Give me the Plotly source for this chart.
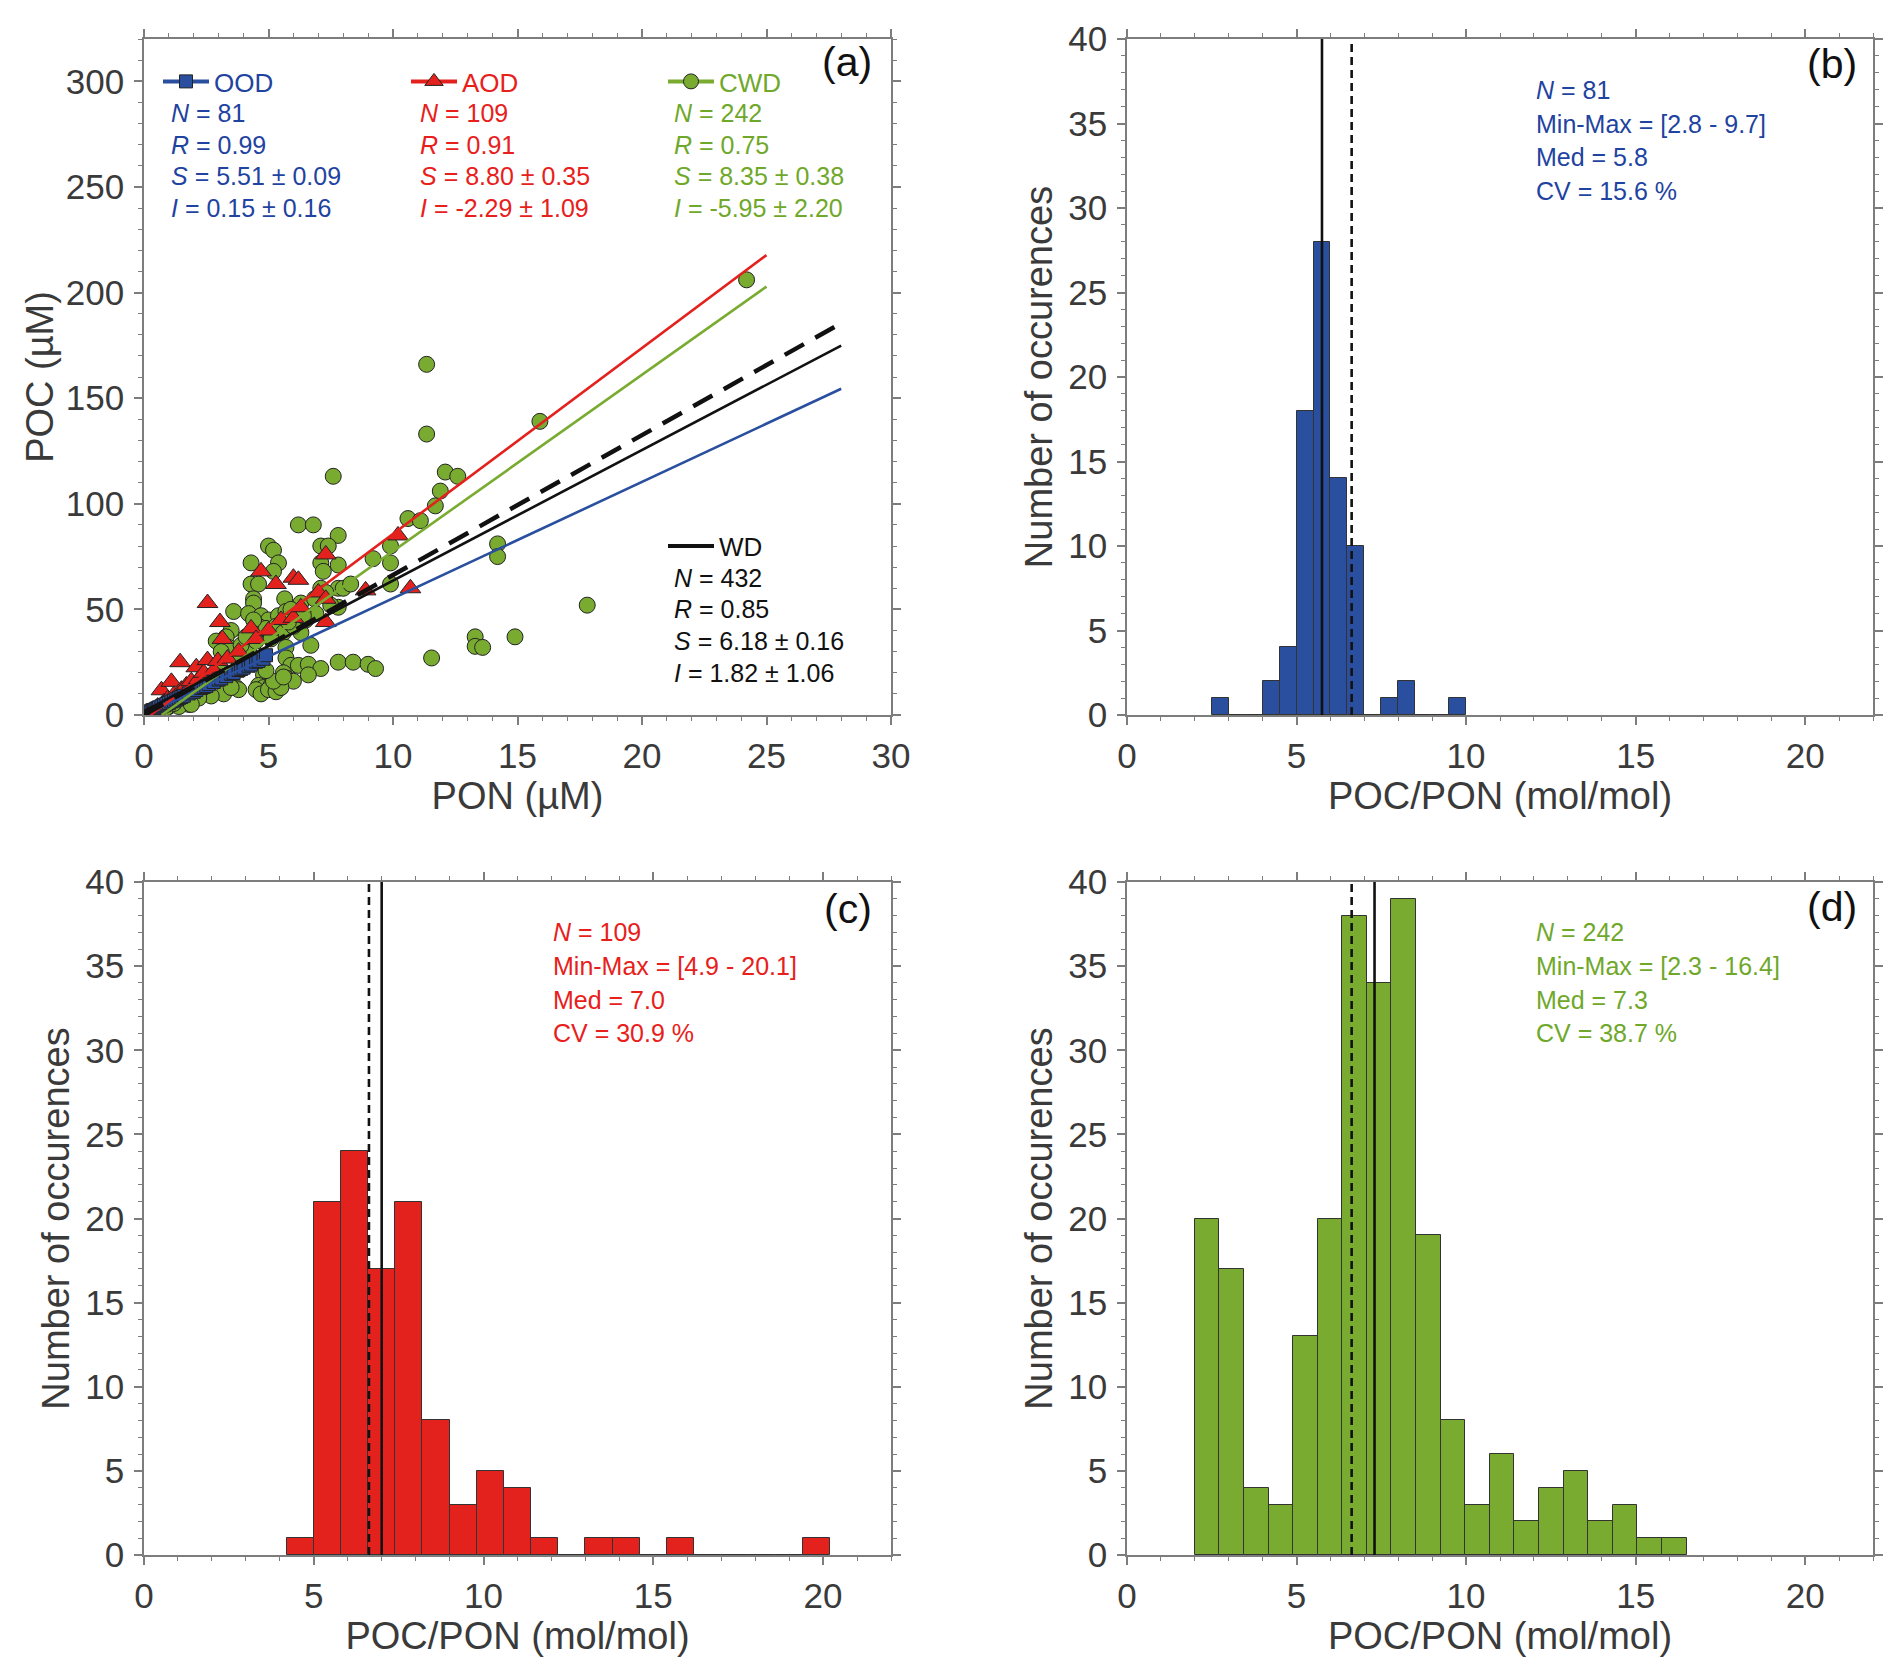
import plotly.graph_objects as go

# ---------------- data ----------------
# Panel (a): POC vs PON scatter
ood_pon = [0.05, 0.1, 0.15, 0.2, 0.25, 0.3, 0.35, 0.4, 0.45, 0.5, 0.55, 0.6, 0.7, 0.8, 0.9, 1.0, 1.1, 1.2,
           1.3, 1.4, 1.5, 1.6, 1.8, 2.0, 2.1, 2.3, 2.4, 2.5, 2.6, 2.8, 3.0, 3.1, 3.3, 3.5, 3.6, 3.8, 3.9,
           4.0, 4.2, 4.3, 4.5, 4.6, 4.8, 4.9]
ood_poc = [0.6, 0.9, 1.2, 1.5, 1.6, 2.0, 2.3, 2.4, 2.6, 3.0, 3.2, 3.6, 4.1, 4.6, 5.3, 5.7, 6.4, 6.8,
           7.4, 8.0, 8.5, 9.1, 10.2, 11.0, 11.8, 12.8, 13.3, 13.7, 14.6, 15.6, 16.8, 17.3, 18.4, 19.5, 19.9,
           21.3, 21.8, 22.4, 23.3, 23.9, 25.2, 25.6, 26.6, 28.3]

aod_pon = [0.25, 0.4, 0.55, 0.7, 0.8, 0.95, 1.1, 1.2, 1.45, 1.5, 1.7, 1.9, 2.1, 2.2, 2.4, 2.55, 2.55, 2.8,
           2.97, 3.05, 3.15, 3.35, 3.6, 3.8, 4.3, 4.5, 4.7, 5.0, 5.3, 5.5, 6.0, 6.0, 6.2, 6.3, 7.0, 7.3,
           7.3, 7.3, 8.9, 10.2, 10.7]
aod_poc = [1.5, 2.5, 4.0, 11.7, 6.0, 7.5, 15.7, 9.5, 25.0, 12.0, 14.0, 16.0, 22.6, 17.0, 20.0, 26.0, 53.0, 21.0,
           25.6, 44.0, 36.0, 26.7, 20.0, 30.0, 41.0, 36.0, 68.0, 40.0, 62.0, 45.0, 65.0, 46.0, 64.0, 51.0, 58.0, 76.0,
           55.0, 44.0, 59.0, 85.0, 60.0]

cwd_pon = [24.2, 11.35, 11.35, 15.9, 12.1, 12.6, 11.9, 11.7, 10.6, 11.1, 9.9, 9.9, 9.9, 14.2, 14.2, 17.8,
           13.3, 13.3, 13.6, 14.9, 11.55, 7.6, 6.2, 6.8, 7.8, 5.0, 5.2, 7.1, 7.4, 4.3, 5.4, 7.1, 7.8, 9.2,
           5.2, 7.2, 4.3, 4.6, 7.1, 7.8, 5.65, 6.3, 4.4, 4.4, 6.85, 7.8, 3.6, 4.2, 4.7, 5.0, 5.4, 5.7, 5.9,
           3.5, 3.3, 2.9, 3.4, 3.1, 4.6, 4.9, 5.3, 5.6, 6.3, 5.7, 5.7, 5.9, 6.2, 6.6, 7.1, 7.8, 8.4, 9.0,
           9.3, 5.6, 5.7, 6.6, 6.0, 4.8, 4.6, 4.8, 5.1, 5.4, 3.7, 3.2, 2.7, 3.8, 1.8, 1.4, 0.5, 1.0, 2.2,
           2.5, 3.0, 3.8, 4.2, 4.5, 2.0, 1.5, 6.5, 6.9, 7.3, 8.0, 8.3, 7.5, 6.0, 6.7, 4.5, 4.7, 5.0, 5.3,
           5.5, 5.2, 5.6, 4.9, 3.5, 1.9, 0.3, 0.6, 0.9, 1.2, 3.9, 4.1, 4.4, 5.8, 6.4, 5.1, 3.0, 2.4]
cwd_poc = [206.0, 166.0, 133.0, 139.0, 115.0, 113.0, 106.0, 99.0, 93.0, 92.0, 80.0, 72.0, 62.0, 81.0, 75.0, 52.0,
           37.0, 32.5, 32.0, 37.0, 27.0, 113.0, 90.0, 90.0, 85.0, 80.0, 78.0, 80.0, 80.0, 72.0, 72.0, 72.0, 71.0, 74.0,
           68.0, 68.0, 62.0, 62.0, 60.0, 60.0, 55.0, 53.0, 55.0, 53.0, 55.0, 51.0, 49.0, 48.0, 47.0, 45.0, 47.0, 49.0, 50.0,
           40.0, 37.0, 35.0, 32.0, 30.0, 42.0, 41.0, 42.0, 39.0, 39.0, 32.0, 27.0, 23.5, 23.5, 24.0, 22.0, 25.0, 25.0, 24.0,
           22.0, 20.0, 17.5, 19.0, 16.0, 19.0, 14.0, 13.0, 14.0, 15.0, 13.0, 10.0, 9.0, 12.0, 5.0, 4.0, 2.0, 4.0, 8.0,
           16.0, 22.0, 26.0, 30.0, 35.0, 12.0, 9.0, 45.0, 48.0, 58.0, 60.0, 62.0, 52.0, 42.0, 33.0, 12.0, 10.0, 12.0, 11.0,
           13.0, 16.0, 18.0, 21.0, 13.0, 5.0, 1.0, 2.5, 3.5, 5.5, 33.0, 37.0, 45.0, 44.0, 47.0, 36.0, 18.0, 14.0]

# regression fits: (slope, intercept, x_start, x_end)
fit_names = ["OOD", "AOD", "CWD", "WD"]
fit_slope = [5.51, 8.80, 8.35, 6.18]
fit_icept = [0.15, -2.29, -5.95, 1.82]
fit_xstart = [0.0, 0.26, 0.71, 0.0]
fit_xend = [28.0, 25.0, 25.0, 28.0]
redfield = 106.0 / 16.0   # Redfield C:N ratio (dashed line)

# Histograms: bin start, bin width, counts
hist_b_start, hist_b_width = 2.5, 0.5
hist_b_counts = [1, 0, 0, 2, 4, 18, 28, 14, 10, 0, 1, 2, 0, 0, 1]
hist_c_start, hist_c_width = 4.2, 0.8
hist_c_counts = [1, 21, 24, 17, 21, 8, 3, 5, 4, 1, 0, 1, 1, 0, 1, 0, 0, 0, 0, 1]
hist_d_start, hist_d_width = 2.0, 0.725
hist_d_counts = [20, 17, 4, 3, 13, 20, 38, 34, 39, 19, 8, 3, 6, 2, 4, 5, 2, 3, 1, 1]
medians = [5.75, 7.0, 7.3]

stats_a = {
    "OOD": ["<i>N</i> = 81", "<i>R</i> = 0.99", "<i>S</i> = 5.51 ± 0.09", "<i>I</i> = 0.15 ± 0.16"],
    "AOD": ["<i>N</i> = 109", "<i>R</i> = 0.91", "<i>S</i> = 8.80 ± 0.35", "<i>I</i> = -2.29 ± 1.09"],
    "CWD": ["<i>N</i> = 242", "<i>R</i> = 0.75", "<i>S</i> = 8.35 ± 0.38", "<i>I</i> = -5.95 ± 2.20"],
    "WD": ["<i>N</i> = 432", "<i>R</i> = 0.85", "<i>S</i> = 6.18 ± 0.16", "<i>I</i> = 1.82 ± 1.06"],
}
stats_hist = [
    ["<i>N</i> = 81", "Min-Max = [2.8 - 9.7]", "Med = 5.8", "CV = 15.6 %"],
    ["<i>N</i> = 109", "Min-Max = [4.9 - 20.1]", "Med = 7.0", "CV = 30.9 %"],
    ["<i>N</i> = 242", "Min-Max = [2.3 - 16.4]", "Med = 7.3", "CV = 38.7 %"],
]

# ---------------- styles ----------------
BLUE, RED, GREEN, BLACK = "#2a4f9e", "#e3221e", "#79ab31", "#111111"
TBLUE, TRED, TGREEN = "#1f43a0", "#e8201b", "#6fa82a"
FONT = "Liberation Sans"
W, H = 1892, 1670

def px_x(a, b):
    return [a / W, b / W]

def px_y(top, bottom):
    return [1 - bottom / H, 1 - top / H]

AX = dict(showline=True, linecolor="#7d7d7d", linewidth=1.6, mirror="allticks",
          ticks="outside", ticklen=8, tickwidth=1.6, tickcolor="#7d7d7d",
          showgrid=False, zeroline=False, automargin=False,
          tickfont=dict(family=FONT, size=35, color="#3a3a3a"))
TITLEFONT = dict(family=FONT, size=38, color="#3a3a3a")

fig = go.Figure()

# --- panel (a) scatter ---
mk_line = dict(color="#222222", width=1)
fig.add_trace(go.Scatter(x=cwd_pon, y=cwd_poc, mode="markers", showlegend=False,
                         marker=dict(symbol="circle", size=16, color=GREEN, line=mk_line),
                         xaxis="x", yaxis="y"))
fig.add_trace(go.Scatter(x=aod_pon, y=aod_poc, mode="markers", showlegend=False,
                         marker=dict(symbol="triangle-up", size=18, color=RED, line=mk_line),
                         xaxis="x", yaxis="y"))
fig.add_trace(go.Scatter(x=ood_pon, y=ood_poc, mode="markers", showlegend=False,
                         marker=dict(symbol="square", size=13, color=BLUE, line=mk_line),
                         xaxis="x", yaxis="y"))

line_cols = [BLUE, RED, GREEN, BLACK]
for i in range(4):
    xs = [fit_xstart[i], fit_xend[i]]
    ys = [fit_slope[i] * v + fit_icept[i] for v in xs]
    fig.add_trace(go.Scatter(x=xs, y=ys, mode="lines", showlegend=False,
                             line=dict(color=line_cols[i], width=2.6),
                             xaxis="x", yaxis="y"))
xs = [0.0, 28.0]
fig.add_trace(go.Scatter(x=xs, y=[redfield * v for v in xs], mode="lines", showlegend=False,
                         line=dict(color=BLACK, width=4.5, dash="22px,13px"), xaxis="x", yaxis="y"))

# legend icons (one legend per group)
leg_specs = [
    ("OOD", BLUE, "square", 13, TBLUE, "legend"),
    ("AOD", RED, "triangle-up", 18, TRED, "legend2"),
    ("CWD", GREEN, "circle", 15, TGREEN, "legend3"),
    ("WD", BLACK, None, 0, "#111111", "legend4"),
]
for name, col, sym, sz, tcol, lg in leg_specs:
    if sym:
        fig.add_trace(go.Scatter(x=[None], y=[None], mode="lines+markers", name=name, legend=lg,
                                 line=dict(color=col, width=4),
                                 marker=dict(symbol=sym, size=sz, color=col, line=mk_line),
                                 xaxis="x", yaxis="y"))
    else:
        fig.add_trace(go.Scatter(x=[None], y=[None], mode="lines", name=name, legend=lg,
                                 line=dict(color=col, width=4), xaxis="x", yaxis="y"))

# --- histograms ---
hists = [
    (hist_b_start, hist_b_width, hist_b_counts, BLUE, "x2", "y2"),
    (hist_c_start, hist_c_width, hist_c_counts, RED, "x3", "y3"),
    (hist_d_start, hist_d_width, hist_d_counts, GREEN, "x4", "y4"),
]
for k, (st, wd, counts, col, xa, ya) in enumerate(hists):
    centers = [st + wd * (j + 0.5) for j in range(len(counts))]
    fig.add_trace(go.Bar(x=centers, y=counts, width=wd, showlegend=False,
                         marker=dict(color=col, line=dict(color="#333333", width=1)),
                         xaxis=xa, yaxis=ya))
    fig.add_trace(go.Scatter(x=[medians[k], medians[k]], y=[0, 40], mode="lines", showlegend=False,
                             line=dict(color=BLACK, width=2.6), xaxis=xa, yaxis=ya))
    fig.add_trace(go.Scatter(x=[redfield, redfield], y=[0, 40], mode="lines", showlegend=False,
                             line=dict(color=BLACK, width=2.6, dash="8px,5px"), xaxis=xa, yaxis=ya))

# ---------------- layout ----------------
dom_ax = px_x(136, 883)
dom_bx = px_x(1119, 1865)
dom_ay = px_y(31, 707)
dom_cy = px_y(874, 1547)

def minor(mdt):
    return dict(dtick=mdt, ticks="outside", ticklen=4, tickwidth=1.2, tickcolor="#7d7d7d", showgrid=False)

def xax(domain, rng, dt, mdt, anchor, title):
    d = dict(AX)
    d.update(domain=domain, range=rng, dtick=dt, tick0=0, anchor=anchor, minor=minor(mdt),
             ticklabelstandoff=1,
             title=dict(text=title, font=TITLEFONT, standoff=7))
    return d

def yax(domain, rng, dt, mdt, anchor, title, standoff):
    d = dict(AX)
    d.update(domain=domain, range=rng, dtick=dt, tick0=0, anchor=anchor, minor=minor(mdt),
             ticklabelstandoff=3,
             title=dict(text=title, font=TITLEFONT, standoff=standoff))
    return d

fig.update_layout(
    width=W, height=H, margin=dict(l=0, r=0, t=0, b=0),
    paper_bgcolor="white", plot_bgcolor="white",
    font=dict(family=FONT, color="#3a3a3a"),
    bargap=0, barmode="overlay",
    xaxis=xax(dom_ax, [0, 30], 5, 1, "y", "PON (µM)"),
    yaxis=yax(dom_ay, [0, 320], 50, 10, "x", "POC (µM)", 0),
    xaxis2=xax(dom_bx, [0, 22], 5, 1, "y2", "POC/PON (mol/mol)"),
    yaxis2=yax(dom_ay, [0, 40], 5, 1, "x2", "Number of occurences", 4),
    xaxis3=xax(dom_ax, [0, 22], 5, 1, "y3", "POC/PON (mol/mol)"),
    yaxis3=yax(dom_cy, [0, 40], 5, 1, "x3", "Number of occurences", 4),
    xaxis4=xax(dom_bx, [0, 22], 5, 1, "y4", "POC/PON (mol/mol)"),
    yaxis4=yax(dom_cy, [0, 40], 5, 1, "x4", "Number of occurences", 4),
)

leg_common = dict(orientation="v", xanchor="left", yanchor="middle", bgcolor="rgba(0,0,0,0)",
                  borderwidth=0, itemwidth=46, tracegroupgap=0)
leg_pos = {"legend": (150, 73.5, TBLUE), "legend2": (398, 73.5, TRED),
           "legend3": (655, 73.5, TGREEN), "legend4": (655, 538, "#111111")}
for lg, (lx, ly, tc) in leg_pos.items():
    fig.update_layout({lg: dict(leg_common, x=lx / W, y=1 - ly / H,
                                font=dict(family=FONT, size=26, color=tc))})

ann = []
# panel (a) stats text
cols_a = {"OOD": (1.0, TBLUE), "AOD": (11.0, TRED), "CWD": (21.2, TGREEN)}
for key, (x0, c) in cols_a.items():
    for j, t in enumerate(stats_a[key]):
        ann.append(dict(x=x0, y=285 - 15 * j, xref="x", yref="y", text=t, showarrow=False,
                        xanchor="left", yanchor="middle", font=dict(family=FONT, size=25, color=c)))
for j, t in enumerate(stats_a["WD"]):
    ann.append(dict(x=21.2, y=65 - 15 * j, xref="x", yref="y", text=t, showarrow=False,
                    xanchor="left", yanchor="middle", font=dict(family=FONT, size=25, color="#111111")))
# histogram stats text
hist_axes = [("x2", "y2", TBLUE), ("x3", "y3", TRED), ("x4", "y4", TGREEN)]
for k, (xa, ya, c) in enumerate(hist_axes):
    for j, t in enumerate(stats_hist[k]):
        ann.append(dict(x=12.0, y=37 - 2 * j, xref=xa, yref=ya, text=t, showarrow=False,
                        xanchor="left", yanchor="middle", font=dict(family=FONT, size=25, color=c)))
# panel letters
letters = [("(a)", "x", "y", 29.3, 309), ("(b)", "x2", "y2", 21.6, 38.5),
           ("(c)", "x3", "y3", 21.5, 38.4), ("(d)", "x4", "y4", 21.6, 38.5)]
for t, xa, ya, xx, yy in letters:
    ann.append(dict(x=xx, y=yy, xref=xa, yref=ya, text=t, showarrow=False,
                    xanchor="right", yanchor="middle", font=dict(family=FONT, size=41, color="#111111")))
fig.update_layout(annotations=ann)

fig.write_html("out.html")
